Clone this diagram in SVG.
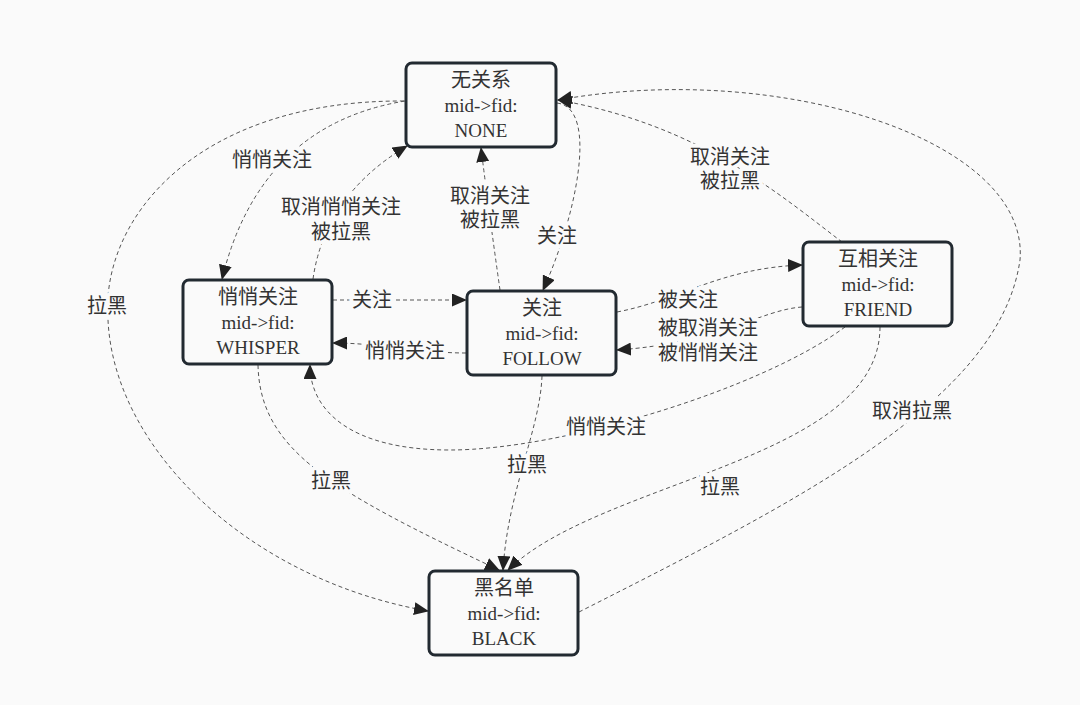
<svg xmlns="http://www.w3.org/2000/svg" width="1080" height="705" viewBox="0 0 1080 705">
<style>
.bg{fill:#fafafa}
.box{fill:#fafafa;stroke:#222a31;stroke-width:3}
.t{font-family:"Liberation Serif","Noto Sans CJK SC",serif;font-size:19px;fill:#333;text-anchor:middle}
.c{font-size:20px}
.e{fill:none;stroke:#555;stroke-width:1;stroke-dasharray:4 3}
.l{font-family:"Liberation Serif","Noto Sans CJK SC",serif;font-size:20px;fill:#333;text-anchor:middle;stroke:#fafafa;stroke-width:8;paint-order:stroke;stroke-linejoin:round}
</style>
<defs>
<marker id="a" markerUnits="userSpaceOnUse" markerWidth="15" markerHeight="13" viewBox="0 0 15 13" refX="14" refY="6.5" orient="auto">
<path d="M0,0 L15,6.5 L0,13 z" fill="#222"/>
</marker>
</defs>
<rect class="bg" x="0" y="0" width="1080" height="705"/>
<g id="connectors">
<path class="e" marker-end="url(#a)" d="M405,101 Q 260,125 222,279"/>
<path class="e" marker-end="url(#a)" d="M404,101 C 195,100 100,220 108,320 C 114,450 250,580 428,611"/>
<path class="e" marker-end="url(#a)" d="M313,279 Q 325,195 407,146"/>
<path class="e" marker-end="url(#a)" d="M500,290 Q 490,220 481,148"/>
<path class="e" marker-end="url(#a)" d="M557,103 C 600,108 575,220 543,290"/>
<path class="e" marker-end="url(#a)" d="M842,242 C 780,195 700,125 558,100"/>
<path class="e" marker-end="url(#a)" d="M579,612 C 800,500 1000,400 1020,260 C 1030,140 780,60 558,100"/>
<path class="e" marker-end="url(#a)" d="M333,300 L466,300"/>
<path class="e" marker-end="url(#a)" d="M466,353 C 420,353 380,343 333,343"/>
<path class="e" marker-end="url(#a)" d="M617,312 C 680,300 720,268 802,265"/>
<path class="e" marker-end="url(#a)" d="M802,307 C 760,310 720,343 617,350"/>
<path class="e" marker-end="url(#a)" d="M845,327 C 760,390 560,450 450,450 C 350,450 310,410 310,365"/>
<path class="e" marker-end="url(#a)" d="M258,365 C 260,450 330,490 499,570"/>
<path class="e" marker-end="url(#a)" d="M542,376 C 540,430 508,490 503,570"/>
<path class="e" marker-end="url(#a)" d="M880,327 C 880,460 600,480 508,570"/>
<text class="l" x="272" y="167">悄悄关注</text>
<text class="l" x="107" y="313">拉黑</text>
<text class="l" x="341" y="214">取消悄悄关注</text>
<text class="l" x="341" y="239">被拉黑</text>
<text class="l" x="490" y="203">取消关注</text>
<text class="l" x="490" y="227">被拉黑</text>
<text class="l" x="557" y="243">关注</text>
<text class="l" x="730" y="164">取消关注</text>
<text class="l" x="730" y="188">被拉黑</text>
<text class="l" x="912" y="418">取消拉黑</text>
<text class="l" x="372" y="307">关注</text>
<text class="l" x="405" y="358">悄悄关注</text>
<text class="l" x="688" y="307">被关注</text>
<text class="l" x="708" y="335">被取消关注</text>
<text class="l" x="708" y="360">被悄悄关注</text>
<text class="l" x="606" y="434">悄悄关注</text>
<text class="l" x="331" y="488">拉黑</text>
<text class="l" x="527" y="472">拉黑</text>
<text class="l" x="720" y="494">拉黑</text>
</g>
<g id="none">
<rect class="box" x="406" y="63" width="150" height="84" rx="6"/>
<text class="t c" x="481" y="87">无关系</text>
<text class="t" x="481" y="112">mid-&gt;fid:</text>
<text class="t" x="481" y="137">NONE</text>
</g>
<g id="whisper">
<rect class="box" x="183" y="280" width="149" height="84" rx="6"/>
<text class="t c" x="258" y="304">悄悄关注</text>
<text class="t" x="258" y="329">mid-&gt;fid:</text>
<text class="t" x="258" y="354">WHISPER</text>
</g>
<g id="follow">
<rect class="box" x="467" y="291" width="149" height="84" rx="6"/>
<text class="t c" x="542" y="315">关注</text>
<text class="t" x="542" y="340">mid-&gt;fid:</text>
<text class="t" x="542" y="365">FOLLOW</text>
</g>
<g id="friend">
<rect class="box" x="803" y="242" width="149" height="84" rx="6"/>
<text class="t c" x="878" y="266">互相关注</text>
<text class="t" x="878" y="291">mid-&gt;fid:</text>
<text class="t" x="878" y="316">FRIEND</text>
</g>
<g id="black">
<rect class="box" x="429" y="571" width="149" height="84" rx="6"/>
<text class="t c" x="504" y="595">黑名单</text>
<text class="t" x="504" y="620">mid-&gt;fid:</text>
<text class="t" x="504" y="645">BLACK</text>
</g>
</svg>
